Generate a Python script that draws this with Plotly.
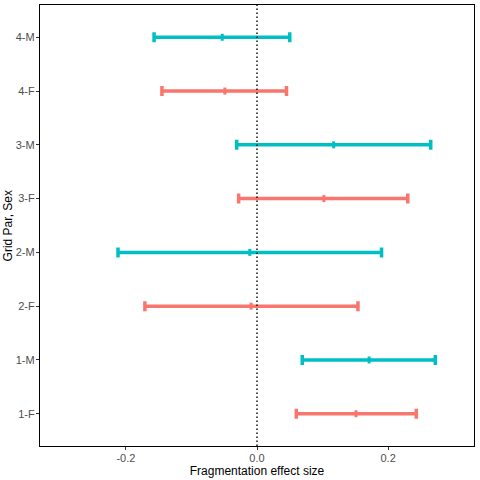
import plotly.graph_objects as go

groups = ["1-F", "1-M", "2-F", "2-M", "3-F", "3-M", "4-F", "4-M"]
sexes = ["F", "M", "F", "M", "F", "M", "F", "M"]
estimate = [0.151, 0.171, -0.009, -0.011, 0.102, 0.117, -0.049, -0.053]
lower = [0.060, 0.069, -0.171, -0.212, -0.028, -0.031, -0.145, -0.157]
upper = [0.243, 0.272, 0.154, 0.190, 0.230, 0.265, 0.045, 0.050]

colors = {"F": "#F8766D", "M": "#00BFC4"}

fig = go.Figure()
for sex in ["F", "M"]:
    idx = [i for i, s in enumerate(sexes) if s == sex]
    est = [estimate[i] for i in idx]
    fig.add_trace(go.Scatter(
        x=est,
        y=[groups[i] for i in idx],
        mode="markers",
        marker=dict(symbol="line-ns-open", size=5, color=colors[sex],
                    line=dict(width=3, color=colors[sex])),
        error_x=dict(type="data", symmetric=False,
                     array=[upper[i] - e for i, e in zip(idx, est)],
                     arrayminus=[e - lower[i] for i, e in zip(idx, est)],
                     color=colors[sex], thickness=3.5, width=5),
        showlegend=False,
    ))

fig.add_vline(x=0, line=dict(color="black", width=1.4, dash="1.4px,2.6px"))

# white ticks along the top edge
fig.add_trace(go.Scatter(x=[0], y=[groups[0]], xaxis="x2", mode="markers",
                         marker=dict(opacity=0), showlegend=False, hoverinfo="skip"))

# y title as annotation so it sits where ggplot put it
fig.add_annotation(text="Grid Par, Sex", textangle=-90, xref="paper", yref="paper",
                   x=-0.074, y=0.5, xanchor="center", yanchor="middle",
                   showarrow=False, font=dict(size=12, color="black"))

fig.update_layout(
    width=480, height=480,
    margin=dict(l=40, r=6, t=5, b=34),
    plot_bgcolor="white", paper_bgcolor="white",
    font=dict(family="Liberation Sans, Arial", size=11, color="#4d4d4d"),
    xaxis=dict(range=[-0.331, 0.331], tickvals=[-0.2, 0, 0.2],
               ticktext=["-0.2", "0.0", "0.2"], showgrid=False, zeroline=False,
               ticks="outside", ticklen=3, tickcolor="#333333", automargin=False,
               ticklabelstandoff=-1,
               showline=True, linecolor="black", linewidth=1.3, mirror=True,
               title=dict(text="Fragmentation effect size", standoff=1,
                          font=dict(size=12, color="black"))),
    xaxis2=dict(range=[-0.331, 0.331], overlaying="x", side="top",
                tickvals=[-0.3, -0.2, -0.1, 0, 0.1, 0.2, 0.3], automargin=False,
                showticklabels=False, ticks="outside", ticklen=5,
                tickcolor="white", tickwidth=1.5, showgrid=False, zeroline=False),
    yaxis=dict(categoryorder="array", categoryarray=groups, range=[-0.6, 7.6],
               showgrid=False, zeroline=False, ticks="outside", ticklen=3,
               tickcolor="#333333", showline=True, linecolor="black",
               linewidth=1.3, mirror=True, automargin=False,
               ticklabelstandoff=-1),
)

fig.write_html("out.html", config={"displayModeBar": False},
               post_script="document.body.style.margin='0';")
